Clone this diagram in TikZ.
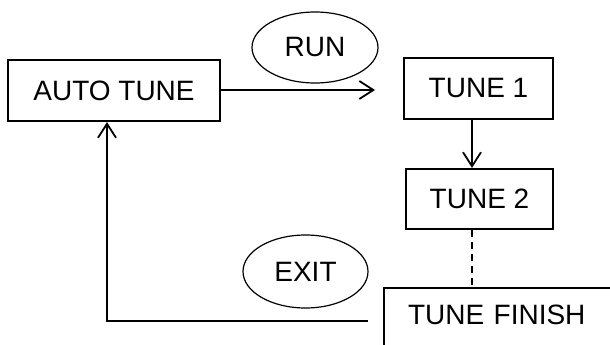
\documentclass[tikz,border=0pt]{standalone}
\usepackage{fontspec}
\setmainfont{Liberation Sans}
\usetikzlibrary{arrows.meta,shapes.geometric}
\tikzset{
  box/.style={draw=black, line width=2.2pt, inner sep=0pt, text=black,
    font=\fontsize{28}{30}\selectfont},
  oval/.style={ellipse, draw=black, line width=1.2pt, inner sep=0pt, text=black,
    font=\fontsize{28}{30}\selectfont},
  conn/.style={line width=1.8pt, draw=black},
  tip/.style={-{Straight Barb[length=14pt,width=18pt,line width=1.8pt]}},
}
\begin{document}
\begin{tikzpicture}[x=1pt,y=-1pt]
\useasboundingbox (0,0) rectangle (610,345);
\clip (0,0) rectangle (610,345);
\node[box, minimum width=212pt, minimum height=61pt] (auto) at (114,90.5) {AUTO TUNE};
\node[box, minimum width=149pt, minimum height=61pt] (t1) at (478.5,88.5) {TUNE 1};
\node[box, minimum width=147pt, minimum height=60pt] (t2) at (479.5,199) {TUNE 2};
\node[box, anchor=north west, text width=250pt, align=left, inner xsep=24pt,
      inner ysep=0pt, text height=36pt, text depth=40pt] (fin) at (383,287) {TUNE FINISH};
\node[oval, minimum width=126pt, minimum height=71pt] (run) at (315,47.5) {RUN};
\node[oval, minimum width=125pt, minimum height=73pt] (exit) at (305.5,271.5) {EXIT};
\coordinate (runend) at (375,90);
\coordinate (xa) at (472,0);
\coordinate (exitstart) at (368,321);
\coordinate (xb) at (107,0);
\draw[conn, tip] (auto.east |- runend) -- (runend);
\draw[conn, tip] (t1.south -| xa) -- (t2.north -| xa);
\draw[conn, dashed, dash pattern=on 7pt off 5pt] (t2.south -| xa) -- (fin.north -| xa);
\draw[conn, tip] (exitstart) -- (exitstart -| xb) -- (auto.south -| xb);
\end{tikzpicture}
\end{document}
